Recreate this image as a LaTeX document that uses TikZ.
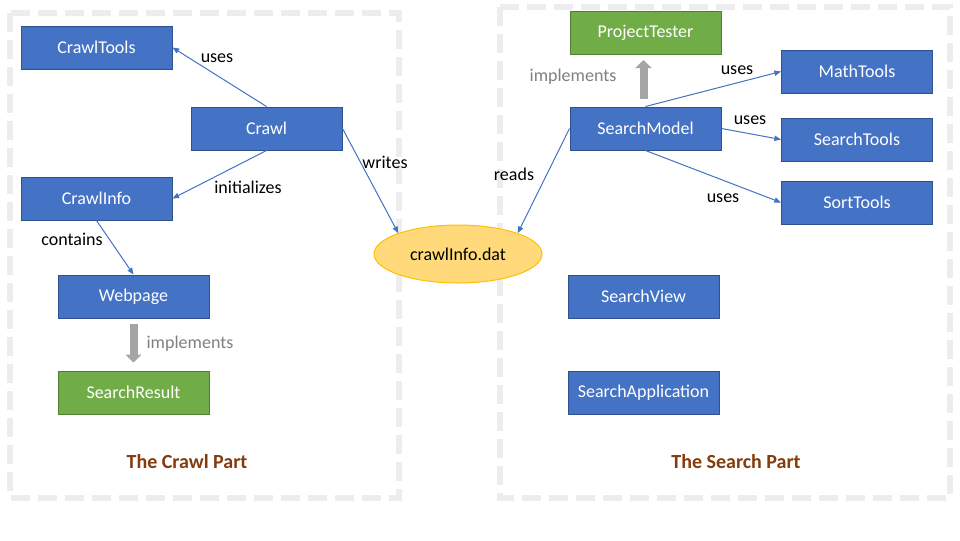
\documentclass[tikz,border=0pt]{standalone}
\usepackage{fontspec}
\setmainfont{Carlito}
\usetikzlibrary{arrows.meta,shapes.geometric}
\definecolor{boxblue}{HTML}{4472C4}
\definecolor{boxblueb}{HTML}{2F528F}
\definecolor{boxgreen}{HTML}{70AD47}
\definecolor{boxgreenb}{HTML}{507E32}
\definecolor{dashgray}{HTML}{EDEDED}
\definecolor{implgray}{HTML}{A5A5A5}
\definecolor{impltext}{HTML}{808080}
\definecolor{partbrown}{HTML}{843C0C}
\definecolor{ellfill}{HTML}{FFD97A}
\definecolor{ellborder}{HTML}{FFC000}
\tikzset{
  cls/.style={rectangle, draw=boxblueb, fill=boxblue, line width=0.75pt, text=white,
    minimum width=113.25pt, minimum height=32.25pt, inner sep=0pt, font=\fontsize{13.5}{15}\selectfont},
  iface/.style={cls, draw=boxgreenb, fill=boxgreen},
  datafile/.style={ellipse, draw=ellborder, fill=ellfill, line width=0.75pt,
    minimum width=126pt, minimum height=43.5pt, inner sep=0pt, font=\fontsize{13.5}{15}\selectfont},
  rel/.style={draw=boxblue, line width=0.75pt, -{Triangle[width=4pt,length=5pt]}},
  impl/.style={draw=implgray, line width=6pt, -{Triangle[width=12pt,length=6pt]}},
  lbl/.style={font=\fontsize{13.5}{15}\selectfont, inner sep=0pt},
  impllbl/.style={lbl, text=impltext},
  part/.style={font=\fontsize{15}{17}\selectfont\bfseries, text=partbrown, inner sep=0pt},
  region/.style={draw=dashgray, line width=4.5pt, dash pattern=on 14.25pt off 6pt}
}
\begin{document}
\begin{tikzpicture}[x=0.75pt,y=-0.75pt]
\useasboundingbox (0,0) rectangle (960,540);
\fill[white] (0,0) rectangle (960,540);
% regions
\draw[region] (10,13) rectangle (399,498);
\draw[region] (500,7) rectangle (950,498);
% crawl part
\node[cls] (crawltools) at (96.5,47.5) {CrawlTools};
\node[cls] (crawl) at (266.5,128.5) {Crawl};
\node[cls] (crawlinfo) at (96.5,198.5) {CrawlInfo};
\node[cls] (webpage) at (133.5,296.5) {Webpage};
\node[iface] (searchresult) at (133.5,392.5) {SearchResult};
% data file
\node[datafile] (dat) at (458,254) {crawlInfo.dat};
% search part
\node[iface] (projecttester) at (645.5,33) {ProjectTester};
\node[cls] (searchmodel) at (645.5,128.5) {SearchModel};
\node[cls] (mathtools) at (857,71.5) {MathTools};
\node[cls] (searchtools) at (857,139.5) {SearchTools};
\node[cls] (sorttools) at (857,202.5) {SortTools};
\node[cls] (searchview) at (643.5,296.5) {SearchView};
\node[cls] (searchapp) at (643.5,392.5) {SearchApplication};
% connectors
\draw[rel] (crawl.north) -- (crawltools.east);
\draw[rel] (crawl.south) -- (crawlinfo.east);
\draw[rel] (crawl.east) -- (dat.north west);
\draw[rel] (crawlinfo.south) -- (webpage.north);
\draw[rel] (searchmodel.north) -- (mathtools.west);
\draw[rel] (searchmodel.east) -- (searchtools.west);
\draw[rel] (searchmodel.south) -- (sorttools.west);
\draw[rel] (searchmodel.west) -- (dat.north east);
\draw[impl] ([yshift=-3.75pt]webpage.south) -- ([yshift=6pt]searchresult.north);
\draw[impl] ([xshift=-1.5pt,yshift=6pt]searchmodel.north) -- ([xshift=-1.5pt,yshift=-3.75pt]projecttester.south);
% labels
\node[lbl] (l1) at (217,58) {uses};
\node[lbl] (l2) at (248,187) {initializes};
\node[lbl] (l3) at (385,162) {writes};
\node[lbl] (l4) at (72,239) {contains};
\node[impllbl] (l5) at (190,344) {implements};
\node[impllbl] (l6) at (573,77) {implements};
\node[lbl] (l7) at (737,70) {uses};
\node[lbl] (l8) at (750,120) {uses};
\node[lbl] (l9) at (723,198) {uses};
\node[lbl] (l10) at (514,174) {reads};
\node[part] (p1) at (187,462) {The Crawl Part};
\node[part] (p2) at (736,462) {The Search Part};
\end{tikzpicture}
\end{document}
